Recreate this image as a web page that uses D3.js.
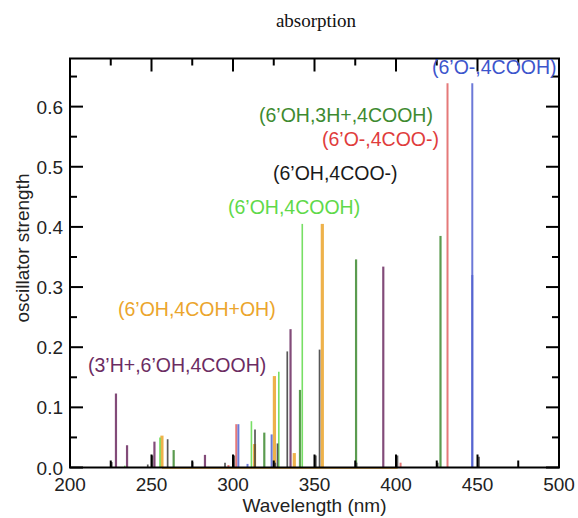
<!DOCTYPE html>
<html>
<head>
<meta charset="utf-8">
<script src="https://cdn.jsdelivr.net/npm/d3@7"></script>
<style>
  html, body { margin: 0; padding: 0; background: #fff; }
  svg { display: block; }
</style>
</head>
<body>
<svg id="chart" width="578" height="518"></svg>
<script>
// ---- data (wavelength nm, oscillator strength) ----
const xTicks = [200, 250, 300, 350, 400, 450, 500];
const yTicks = [0.0, 0.1, 0.2, 0.3, 0.4, 0.5, 0.6];

const seriesNames = ["(6’OH,4COO-)", "(6’OH,4COOH)", "(6’OH,3H+,4COOH)", "(6’O-,4COO-)", "(6’O-,4COOH)", "(6’OH,4COH+OH)", "(3’H+,6’OH,4COOH)"];

const wlBlack = [225.6, 247.7, 250.6, 259.9, 275.2, 295.1, 300.8, 313.5, 325.9, 327.3, 333.3, 350.8, 353.1, 375.8, 400.9, 425.6, 450.9];
const fBlack  = [0.009, 0.005, 0.020, 0.047, 0.009, 0.008, 0.020, 0.063, 0.008, 0.040, 0.193, 0.020, 0.196, 0.008, 0.020, 0.008, 0.018];

const wlLightGreen = [233.6, 255.2, 311.3, 328.1, 342.5];
const fLightGreen  = [0.003, 0.050, 0.077, 0.159, 0.405];

const wlDarkGreen = [263.6, 319.2, 341.1, 375.5, 427.3];
const fDarkGreen  = [0.029, 0.058, 0.129, 0.346, 0.385];

const wlRed = [297.2, 302.0, 402.8, 431.6];
const fRed  = [0.004, 0.072, 0.008, 0.639];

const wlBlue = [303.3, 308.9, 323.7, 446.8, 446.8];
const fBlue  = [0.072, 0.006, 0.055, 0.639, 0.320];

const wlOrange = [256.4, 313.2, 325.4, 337.6, 354.8, 401.0];
const fOrange  = [0.053, 0.039, 0.152, 0.024, 0.405, 0.000];

const wlPurple = [228.2, 235.0, 251.8, 282.8, 335.3, 392.2];
const fPurple  = [0.123, 0.037, 0.043, 0.021, 0.230, 0.334];

// ---- layout ----
const svg = d3.select("#chart");
const L = 70, R = 559, T = 58.5, B = 467.5;
const x = d3.scaleLinear().domain([200, 500]).range([L, R]);
const y = d3.scaleLinear().domain([0, 0.68]).range([B, T]);
const sans = "'Liberation Sans', Arial, Helvetica, sans-serif";

const series = [
  { wl: wlOrange, f: fOrange, color: "#eba52c", width: 3.2 },
  { wl: wlLightGreen, f: fLightGreen, color: "#5fd94a", width: 1.6 },
  { wl: wlDarkGreen, f: fDarkGreen, color: "#3e8a30", width: 2.2 },
  { wl: wlBlack, f: fBlack, color: "#3a3a3a", width: 1.7 },
  { wl: wlPurple, f: fPurple, color: "#6c2c62", width: 2.2 },
  { wl: wlRed, f: fRed, color: "#e06262", width: 2.0 },
  { wl: wlBlue, f: fBlue, color: "#5262d0", width: 2.0 }
];

// orange baseline (zero line of the orange spectrum)
svg.append("line")
  .attr("x1", x(d3.min(wlOrange))).attr("x2", x(d3.max(wlOrange)))
  .attr("y1", y(0) + 0.5).attr("y2", y(0) + 0.5)
  .attr("stroke", "#eba52c").attr("stroke-width", 2).attr("opacity", 0.7);

// sticks
series.forEach(s => {
  svg.append("g").selectAll("line")
    .data(s.wl.map((w, i) => ({ w, f: s.f[i] })))
    .join("line")
    .attr("x1", d => x(d.w)).attr("x2", d => x(d.w))
    .attr("y1", y(0)).attr("y2", d => y(d.f))
    .attr("stroke", s.color)
    .attr("stroke-width", s.width)
    .attr("stroke-opacity", 0.85);
});

// frame
svg.append("rect")
  .attr("x", L).attr("y", T).attr("width", R - L).attr("height", B - T)
  .attr("fill", "none").attr("stroke", "#000").attr("stroke-width", 2);

// ticks (inward, on all four sides)
const xMajor = xTicks;
const xMinor = d3.range(225, 500, 50);
const yMajor = yTicks;
const yMinor = d3.range(0.05, 0.68, 0.1);
const MAJ = 13, MIN = 7;
const tg = svg.append("g").attr("stroke", "#000").attr("stroke-width", 2);
xMajor.concat(xMinor).forEach(v => {
  const len = xMajor.includes(v) ? MAJ : MIN;
  tg.append("line").attr("x1", x(v)).attr("x2", x(v)).attr("y1", B).attr("y2", B - len);
  tg.append("line").attr("x1", x(v)).attr("x2", x(v)).attr("y1", T).attr("y2", T + len);
});
yMajor.map(v => [v, MAJ]).concat(yMinor.map(v => [v, MIN])).forEach(([v, len]) => {
  tg.append("line").attr("x1", L).attr("x2", L + len).attr("y1", y(v)).attr("y2", y(v));
  tg.append("line").attr("x1", R).attr("x2", R - len).attr("y1", y(v)).attr("y2", y(v));
});

// tick labels
svg.append("g").selectAll("text").data(xTicks).join("text")
  .attr("x", d => x(d)).attr("y", 491)
  .attr("text-anchor", "middle")
  .attr("font-family", sans).attr("font-size", 19).attr("fill", "#222")
  .text(d => d);

svg.append("g").selectAll("text").data(yTicks).join("text")
  .attr("x", 63).attr("y", d => y(d) + 7)
  .attr("text-anchor", "end")
  .attr("font-family", sans).attr("font-size", 19).attr("fill", "#222")
  .text(d => d3.format(".1f")(d));

// axis titles
svg.append("text")
  .attr("x", (L + R) / 2).attr("y", 512)
  .attr("text-anchor", "middle")
  .attr("font-family", sans).attr("font-size", 19).attr("fill", "#222")
  .text("Wavelength (nm)");

svg.append("text")
  .attr("transform", "translate(29,248) rotate(-90)")
  .attr("text-anchor", "middle")
  .attr("font-family", sans).attr("font-size", 19).attr("fill", "#222")
  .text("oscillator strength");

svg.append("text")
  .attr("x", 316).attr("y", 27)
  .attr("text-anchor", "middle")
  .attr("font-family", "'Liberation Serif', 'Times New Roman', serif")
  .attr("font-size", 19).attr("fill", "#111")
  .text("absorption");

// series labels
const labelColors = ["#1a1a1a", "#5fd94a", "#3e8a30", "#e03c3c", "#3c55cc", "#eba52c", "#6c2c62"];
const labelPos = [[273, 180], [228, 214], [259, 122], [322, 146], [432, 74], [118, 316], [88, 372]];
svg.append("g").selectAll("text").data(seriesNames).join("text")
  .attr("x", (d, i) => labelPos[i][0]).attr("y", (d, i) => labelPos[i][1])
  .attr("font-family", sans).attr("font-size", 19.5)
  .attr("fill", (d, i) => labelColors[i])
  .text(d => d);
</script>
</body>
</html>
